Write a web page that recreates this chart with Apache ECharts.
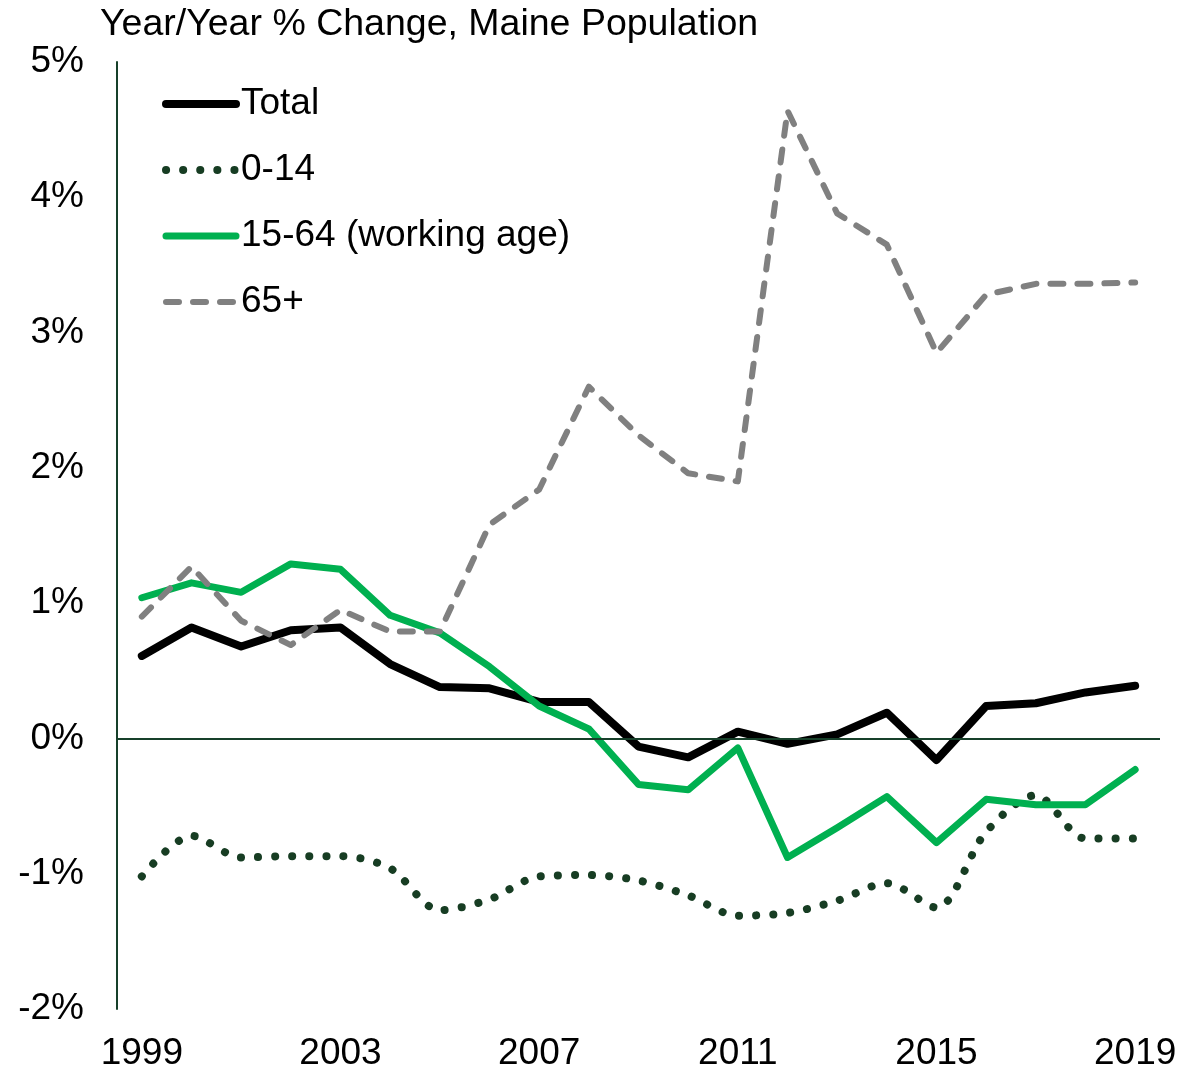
<!DOCTYPE html>
<html>
<head>
<meta charset="utf-8">
<script src="https://cdn.jsdelivr.net/npm/echarts@6/dist/echarts.min.js"></script>
<style>
  html, body { margin: 0; padding: 0; background: #fff; }
  #chart { width: 1200px; height: 1072px; }
</style>
</head>
<body>
<div id="chart"></div>
<script>
  // year/year % change
  var years = ['1999', '2000', '2001', '2002', '2003', '2004', '2005', '2006', '2007', '2008', '2009',
    '2010', '2011', '2012', '2013', '2014', '2015', '2016', '2017', '2018', '2019'];
  var total = [0.61, 0.82, 0.68, 0.80, 0.82, 0.55, 0.38, 0.37, 0.27, 0.27, -0.06,
    -0.14, 0.05, -0.04, 0.03, 0.19, -0.16, 0.24, 0.26, 0.34, 0.39];
  var age0to14 = [-1.02, -0.72, -0.88, -0.87, -0.87, -0.96, -1.27, -1.19, -1.02, -1.01, -1.05,
    -1.16, -1.31, -1.29, -1.20, -1.07, -1.25, -0.69, -0.42, -0.74, -0.74];
  var age15to64 = [1.04, 1.15, 1.08, 1.29, 1.25, 0.91, 0.78, 0.53, 0.24, 0.07, -0.34,
    -0.38, -0.07, -0.88, -0.66, -0.43, -0.77, -0.45, -0.49, -0.49, -0.23];
  var age65plus = [0.90, 1.27, 0.87, 0.69, 0.95, 0.79, 0.79, 1.58, 1.84, 2.60, 2.24,
    1.96, 1.90, 4.64, 3.88, 3.65, 2.85, 3.28, 3.36, 3.36, 3.37];

  var font = 'Liberation Sans, Arial, sans-serif';
  var fs = 37;
  var axisColor = '#17402a';

  var chart = echarts.init(document.getElementById('chart'));
  chart.setOption({
    backgroundColor: '#fff',
    animation: false,
    title: {
      text: 'Year/Year % Change, Maine Population',
      left: 95,
      top: 1,
      textStyle: { fontFamily: font, fontSize: 37.5, fontWeight: 'normal', color: '#000' }
    },
    legend: {
      orient: 'vertical',
      left: 157,
      top: 79,
      itemWidth: 70,
      itemHeight: 16,
      itemGap: 26,
      itemStyle: { color: 'transparent', borderWidth: 0 },
      textStyle: { fontFamily: font, fontSize: fs, color: '#000', lineHeight: 40 },
      data: [
        { name: 'Total', lineStyle: { width: 8 } },
        { name: '0-14', lineStyle: { width: 8 } },
        { name: '15-64 (working age)', lineStyle: { width: 7 } },
        { name: '65+', lineStyle: { width: 6 } }
      ]
    },
    grid: { left: 117, right: 40, top: 62, bottom: 62 },
    xAxis: {
      type: 'category',
      data: years,
      boundaryGap: true,
      axisLine: { show: false },
      axisTick: { show: false },
      axisLabel: {
        interval: 3,
        margin: 26,
        fontFamily: font,
        fontSize: fs,
        color: '#000'
      }
    },
    yAxis: {
      type: 'value',
      min: -2,
      max: 5,
      interval: 1,
      splitLine: { show: false },
      axisTick: { show: false },
      axisLine: { show: true, lineStyle: { color: axisColor, width: 2 } },
      axisLabel: {
        margin: 33,
        fontFamily: font,
        fontSize: fs,
        color: '#000',
        formatter: '{value}%'
      }
    },
    series: [
      {
        name: 'Total',
        type: 'line',
        data: total,
        symbol: 'none',
        lineStyle: { color: '#000', width: 8, cap: 'round', join: 'round' },
        itemStyle: { color: '#000' },
        markLine: {
          silent: true,
          symbol: 'none',
          label: { show: false },
          lineStyle: { color: axisColor, width: 2, type: 'solid' },
          data: [{ yAxis: 0 }]
        }
      },
      {
        name: '0-14',
        type: 'line',
        data: age0to14,
        symbol: 'none',
        smooth: 0.3,
        lineStyle: { color: '#173d23', width: 8, type: [0.1, 17], cap: 'round' },
        itemStyle: { color: '#173d23' }
      },
      {
        name: '15-64 (working age)',
        type: 'line',
        data: age15to64,
        symbol: 'none',
        lineStyle: { color: '#00b050', width: 7, cap: 'round', join: 'round' },
        itemStyle: { color: '#00b050' }
      },
      {
        name: '65+',
        type: 'line',
        data: age65plus,
        symbol: 'none',
        lineStyle: { color: '#808080', width: 6, type: [13, 14], cap: 'round', join: 'round' },
        itemStyle: { color: '#808080' }
      }
    ]
  });
</script>
</body>
</html>
